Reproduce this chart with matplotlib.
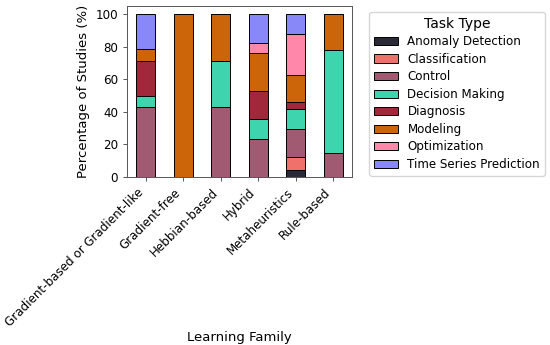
import matplotlib
matplotlib.use("Agg")
import matplotlib.pyplot as plt
import numpy as np

families = ["Gradient-based or Gradient-like", "Gradient-free", "Hebbian-based",
            "Hybrid", "Metaheuristics", "Rule-based"]
tasks = ["Anomaly Detection", "Classification", "Control", "Decision Making",
         "Diagnosis", "Modeling", "Optimization", "Time Series Prediction"]

anomaly_detection = [0, 0, 0, 0, 4.2, 0]
classification = [0, 0, 0, 0, 8.3, 0]
control = [42.9, 0, 42.9, 23.5, 16.7, 14.8]
decision_making = [7.1, 0, 28.6, 11.8, 12.5, 63.0]
diagnosis = [21.4, 0, 0, 17.6, 4.2, 0]
modeling = [7.1, 100, 28.6, 23.5, 16.7, 22.2]
optimization = [0, 0, 0, 5.9, 25.0, 0]
time_series_prediction = [21.4, 0, 0, 17.6, 12.5, 0]

series = [anomaly_detection, classification, control, decision_making,
          diagnosis, modeling, optimization, time_series_prediction]
colors = ["#2b2838", "#f0706c", "#a05a72", "#3dd4ae", "#a0283a",
          "#cc640a", "#ff88aa", "#8888f8"]

fig = plt.figure(figsize=(5.5, 3.45), dpi=100)
ax = fig.add_axes([0.2309, 0.487, 0.409, 0.4957])
x = np.arange(len(families))
bottom = np.zeros(len(families))
for name, vals, c in zip(tasks, series, colors):
    v = np.array(vals, dtype=float)
    ax.bar(x, v, 0.5, bottom=bottom, color=c, edgecolor="black",
           linewidth=0.7, label=name)
    bottom += v

ax.set_xticks(x)
ax.set_xticklabels(families, rotation=45, ha="right", fontsize=8.6)
ax.tick_params(axis="both", labelsize=8.6, length=3, width=0.7, color="#555555")
ax.set_ylabel("Percentage of Studies (%)", fontsize=9.5, labelpad=4)
ax.set_xlabel("Learning Family", fontsize=9.5)
ax.xaxis.set_label_coords(0.5, -0.9)
ax.set_xlim(-0.5, 5.5)
ax.set_ylim(0, 105)
for s in ax.spines.values():
    s.set_color("#555555")
    s.set_linewidth(0.7)
leg = ax.legend(title="Task Type", loc="upper left", bbox_to_anchor=(1.05, 1),
                fontsize=8.6, title_fontsize=10, handlelength=2.0,
                labelspacing=0.38)
fig.savefig("out.png", dpi=100)
